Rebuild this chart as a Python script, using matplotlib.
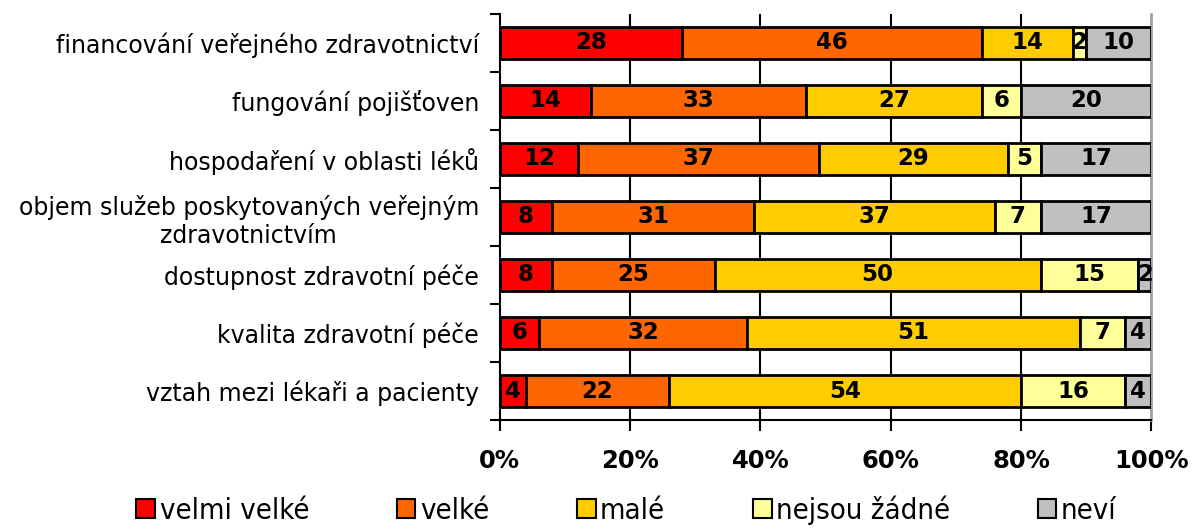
import numpy as np
import matplotlib.pyplot as plt
from matplotlib.patches import Patch

categories = [
    "financování veřejného zdravotnictví",
    "fungování pojišťoven",
    "hospodaření v oblasti léků",
    "objem služeb poskytovaných veřejným\nzdravotnictvím",
    "dostupnost zdravotní péče",
    "kvalita zdravotní péče",
    "vztah mezi lékaři a pacienty",
]
series = ["velmi velké", "velké", "malé", "nejsou žádné", "neví"]
velmi_velke = [28, 14, 12, 8, 8, 6, 4]
velke = [46, 33, 37, 31, 25, 32, 22]
male = [14, 27, 29, 37, 50, 51, 54]
nejsou_zadne = [2, 6, 5, 7, 15, 7, 16]
nevi = [10, 20, 17, 17, 2, 4, 4]
colors = ["#FF0000", "#FF6600", "#FFCC00", "#FFFF99", "#C0C0C0"]
xticks = [0, 20, 40, 60, 80, 100]

values = [velmi_velke, velke, male, nejsou_zadne, nevi]

fig = plt.figure(figsize=(11.93, 5.29), dpi=100)
ax = fig.add_axes([0.419, 0.206, 0.546, 0.768])

y = np.arange(len(categories))
left = np.zeros(len(categories))
for vals, col in zip(values, colors):
    vals = np.array(vals, dtype=float)
    ax.barh(y, vals, left=left, height=0.55, color=col, edgecolor="black",
            linewidth=2, zorder=3)
    for yi, v, l in zip(y, vals, left):
        ax.text(l + v / 2, yi, f"{int(v)}", ha="center", va="center",
                fontsize=16.5, fontweight="bold", zorder=4)
    left += vals

ax.set_xlim(0, 100)
ax.set_ylim(len(categories) - 0.5, -0.5)
for xv in xticks[1:-1]:
    ax.axvline(xv, color="black", lw=1.5, zorder=1)

ax.set_xticks(xticks)
ax.set_xticklabels([f"{v}%" for v in xticks], fontsize=17.5, fontweight="bold")
ax.tick_params(axis="x", direction="out", length=8, width=1.5, pad=13)

ax.set_yticks(y)
ax.set_yticklabels(categories, fontsize=17, multialignment="center")
ax.tick_params(axis="y", which="major", length=0, pad=15)
ax.set_yticks(np.arange(len(categories) + 1) - 0.5, minor=True)
ax.tick_params(axis="y", which="minor", length=7, width=1.5, direction="out")

ax.spines["top"].set_visible(False)
ax.spines["right"].set_color("#A0A0A0")
ax.spines["right"].set_linewidth(2)
ax.spines["left"].set_linewidth(1.5)
ax.spines["bottom"].set_linewidth(1.5)

handles = [Patch(facecolor=c, edgecolor="black", linewidth=1.5) for c in colors]
fig.legend(handles, series, loc="center", bbox_to_anchor=(0.525, 0.036), ncol=5,
           frameon=False, handlelength=0.65, handleheight=0.65,
           handletextpad=0.15, columnspacing=3.0, borderpad=0.1,
           prop={"family": "DejaVu Sans", "stretch": "condensed", "size": 21})

fig.savefig("out.png", dpi=100)
